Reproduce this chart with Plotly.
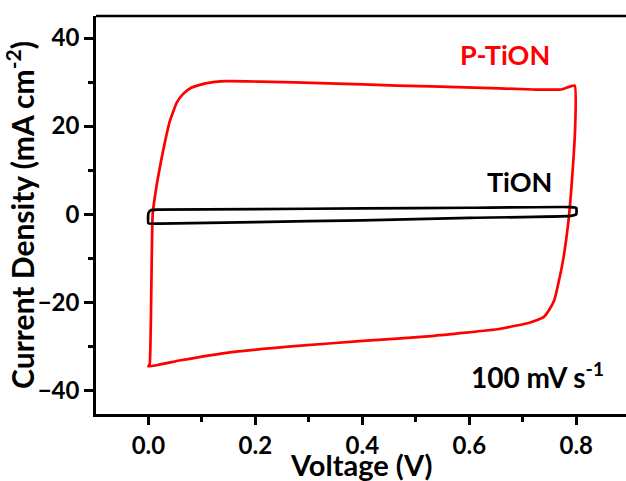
import plotly.graph_objects as go

# Cyclic voltammograms at 100 mV/s (closed loops: anodic sweep then cathodic sweep)
ption_v = [0.000, 0.0025, 0.008, 0.016, 0.024, 0.032, 0.040, 0.053, 0.065, 0.080,
           0.107, 0.146, 0.209, 0.337, 0.465, 0.593, 0.720, 0.771, 0.797,
           0.798, 0.792, 0.785, 0.776, 0.768, 0.759, 0.748, 0.739, 0.714,
           0.656, 0.529, 0.401, 0.273, 0.146, 0.060, 0.000]
ption_j = [-34.6, -34.0, 0.0, 7.0, 12.3, 17.0, 21.1, 25.3, 27.3, 28.7,
           29.7, 30.2, 30.1, 29.7, 29.2, 28.8, 28.3, 28.3, 29.2,
           20.0, 7.8, -2.0, -10.0, -14.9, -19.5, -22.0, -23.4, -24.6,
           -26.1, -27.7, -28.8, -30.0, -31.5, -33.2, -34.6]

tion_v = [0.000, 0.000, 0.004, 0.015, 0.200, 0.400, 0.600, 0.790, 0.800,
          0.800, 0.790, 0.600, 0.400, 0.200, 0.020, 0.000]
tion_j = [-2.1, 0.2, 0.85, 1.0, 1.15, 1.3, 1.45, 1.6, 1.4,
          0.0, -0.4, -0.85, -1.4, -1.8, -2.15, -2.1]

x_range = [-0.098, 0.893]
y_range = [-45.4, 45.0]
x_ticks = [0.0, 0.2, 0.4, 0.6, 0.8]
x_tick_text = ["0.0", "0.2", "0.4", "0.6", "0.8"]
y_ticks = [-40, -20, 0, 20, 40]

FONT = "Lato"

fig = go.Figure()
fig.add_trace(go.Scatter(x=ption_v, y=ption_j, mode="lines",
                         line=dict(color="#ff0000", width=2.7, shape="spline", smoothing=0.4),
                         showlegend=False, hoverinfo="skip"))
fig.add_trace(go.Scatter(x=tion_v, y=tion_j, mode="lines",
                         line=dict(color="#000000", width=2.7, shape="spline", smoothing=0.4),
                         showlegend=False, hoverinfo="skip"))

fig.update_layout(
    width=626, height=481,
    margin=dict(l=96, r=0, t=16, b=67),
    paper_bgcolor="white", plot_bgcolor="white",
    font=dict(family=FONT, color="black"),
    xaxis=dict(
        range=x_range, tickvals=x_ticks, ticktext=x_tick_text,
        automargin=False,
        showgrid=False, zeroline=False,
        showline=True, linecolor="black", linewidth=2.5,
        ticks="outside", ticklen=8, tickwidth=2.5, tickcolor="black",
        minor=dict(dtick=0.1, tick0=0, ticks="outside", ticklen=5, tickwidth=2.5, tickcolor="black"),
        tickfont=dict(family=FONT, size=24, weight="bold"),
    ),
    yaxis=dict(
        range=y_range, tickvals=y_ticks,
        automargin=False,
        showgrid=False, zeroline=False,
        showline=True, linecolor="black", linewidth=2.5,
        ticks="outside", ticklen=9, tickwidth=2.5, tickcolor="black",
        minor=dict(dtick=10, tick0=0, ticks="outside", ticklen=5, tickwidth=2.5, tickcolor="black"),
        tickfont=dict(family=FONT, size=24, weight="bold"),
        title=dict(text="Current Density (mA cm<sup>-2</sup>)",
                   font=dict(family=FONT, size=30, weight="bold"), standoff=1),
    ),
)

# top frame line running to the right edge
fig.add_shape(type="line", xref="paper", yref="paper", x0=0, x1=1, y0=1, y1=1,
              line=dict(color="black", width=2.5))

# x-axis title sits low, running into the bottom edge of the figure
fig.add_annotation(xref="paper", yref="paper", x=0.5, y=-0.078, yanchor="top",
                   text="Voltage (V)", showarrow=False,
                   font=dict(family=FONT, size=29, weight="bold", color="black"))

fig.add_annotation(x=0.667, y=36.3, text="P-TiON", showarrow=False,
                   font=dict(family=FONT, size=27, weight="bold", color="#ff0000"))
fig.add_annotation(x=0.694, y=7.5, text="TiON", showarrow=False,
                   font=dict(family=FONT, size=27, weight="bold", color="black"))
fig.add_annotation(x=0.727, y=-36.6, text="100 mV s<sup>-1</sup>", showarrow=False,
                   font=dict(family=FONT, size=28, weight="bold", color="black"))

fig.write_html("out.html")
